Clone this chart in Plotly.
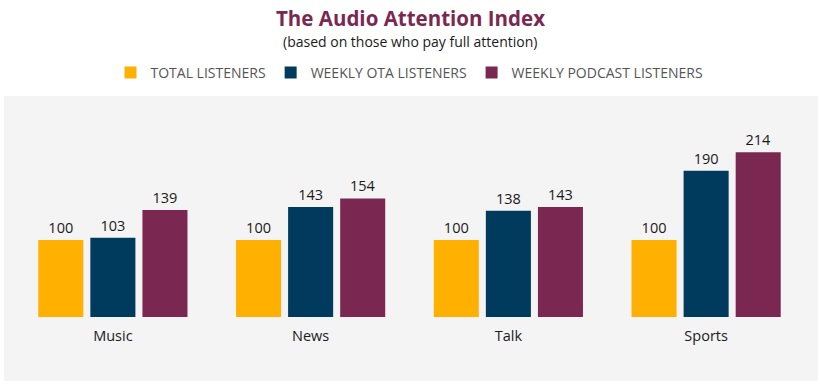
import plotly.graph_objects as go

categories = ["Music", "News", "Talk", "Sports"]
total_listeners = [100, 100, 100, 100]
weekly_ota = [103, 143, 138, 190]
weekly_podcast = [139, 154, 143, 214]
series_names = ["TOTAL LISTENERS", "WEEKLY OTA LISTENERS", "WEEKLY PODCAST LISTENERS"]
colors = ["#FFB000", "#003A5C", "#7A2852"]

fig = go.Figure()
for name, vals, col in zip(series_names, [total_listeners, weekly_ota, weekly_podcast], colors):
    fig.add_trace(go.Bar(
        x=categories, y=vals, name=name,
        marker=dict(color=col, line=dict(width=0)),
        text=vals, textposition="outside", cliponaxis=False,
        textfont=dict(family="Open Sans, sans-serif", size=14.5, color="#1a1a1a"),
    ))

W, H = 820, 386
ml, mr, mt, mb = 14, 15, 96, 69
pw, ph = W - ml - mr, H - mt - mb

def px_x(x):
    return (x - ml) / pw

def px_y(y):
    return (H - mb - y) / ph

fig.add_shape(type="rect", xref="paper", yref="paper", layer="below",
              x0=px_x(4), x1=px_x(818), y0=px_y(381), y1=px_y(96),
              fillcolor="#F4F4F4", line=dict(width=0))

fig.add_annotation(text="<b>The Audio Attention Index</b>", xref="paper", yref="paper",
                   x=px_x(410), y=px_y(18), xanchor="center", yanchor="middle", showarrow=False,
                   font=dict(family="Open Sans, sans-serif", size=20.5, color="#7A2852"))
fig.add_annotation(text="(based on those who pay full attention)", xref="paper", yref="paper",
                   x=px_x(410), y=px_y(42), xanchor="center", yanchor="middle", showarrow=False,
                   font=dict(family="Open Sans, sans-serif", size=14, color="#1a1a1a"))

fig.update_layout(
    width=W, height=H,
    margin=dict(l=ml, r=mr, t=mt, b=mb),
    paper_bgcolor="white", plot_bgcolor="rgba(0,0,0,0)",
    barmode="group", bargap=0.21, bargroupgap=0.135,
    showlegend=True,
    legend=dict(orientation="h", x=0.5, xanchor="center", y=px_y(73), yanchor="middle",
                font=dict(family="Open Sans, sans-serif", size=14, color="#555"),
                itemwidth=30, traceorder="normal"),
    xaxis=dict(showgrid=False, showline=False, zeroline=False, ticks="",
               ticklabelstandoff=8,
               tickfont=dict(family="Open Sans, sans-serif", size=14.5, color="#1a1a1a")),
    yaxis=dict(range=[0, 287], visible=False, showgrid=False, zeroline=False),
)

fig.write_html("out.html", config={"displayModeBar": False},
               post_script="document.body.style.margin='0';")
